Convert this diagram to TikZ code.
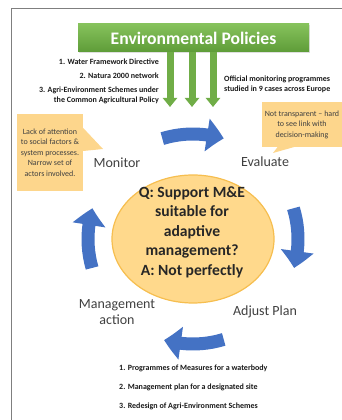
\documentclass[tikz,border=0pt]{standalone}
\usepackage{fontspec}
\setmainfont{Carlito}
\usetikzlibrary{arrows.meta,bending,shadows}
\definecolor{policygreenlight}{HTML}{86C25C}
\definecolor{policygreendark}{HTML}{5E9C38}
\definecolor{policygreen}{HTML}{70AD47}
\definecolor{cycleblue}{HTML}{4472C4}
\definecolor{noteorange}{HTML}{FDD68C}
\definecolor{circlefill}{HTML}{FFD98C}
\definecolor{circleedge}{HTML}{F6BE4F}
\definecolor{labelgray}{HTML}{404040}
\definecolor{framegray}{HTML}{7F7F7F}

\begin{document}
\begin{tikzpicture}[x=1pt,y=1pt,
    stage/.style={text=labelgray,font=\fontsize{14}{16}\selectfont,align=center},
    listtext/.style={font=\fontsize{8}{9.5}\selectfont\bfseries,text=black!90,inner sep=0pt},
    notebox/.style={fill=noteorange,text=labelgray,font=\fontsize{8}{10.5}\selectfont,align=center,inner sep=0pt},
    cyclearrow/.style={cycleblue,line width=13pt,-{Triangle[length=17pt,width=32pt,bend]}},
    policyarrow/.style={policygreen,line width=7pt,-{Triangle[length=9pt,width=14pt]}}]

    \useasboundingbox (0,0) rectangle (342,420);
    \draw[framegray,line width=0.8pt] (11,0) -- (11,412) -- (342,412);

    \node[minimum width=231pt,minimum height=28pt,top color=policygreenlight,bottom color=policygreendark,
          text=white,font=\fontsize{17.6}{20}\selectfont\bfseries,
          drop shadow={opacity=0.25,shadow xshift=1pt,shadow yshift=-1.5pt}] (policy) at (193.5,382) {Environmental Policies};

    \foreach \gx/\gname in {170/ga,192/gb,213/gc}
    {
        \coordinate (\gname) at (\gx,313);
        \draw[policyarrow] (policy.south -| \gname) -- (\gname);
    }

    \node[listtext,anchor=east] (wfd) at (159,358) {1. Water Framework Directive};
    \node[listtext,anchor=east] (natura) at (159,344) {2. Natura 2000 network};
    \node[listtext,anchor=east,align=right] (aes) at (159,324.5) {3. Agri-Environment Schemes under\\the Common Agricultural Policy};
    \node[listtext,anchor=west,align=left,font=\fontsize{8}{10}\selectfont\bfseries] (official) at (224,336) {Official monitoring programmes\\studied in 9 cases across Europe};

    \node[notebox,minimum width=66pt,minimum height=77pt] (socialnote) at (50,267.5) {Lack of attention\\to social factors \&\\system processes.\\Narrow set of\\actors involved.};
    \fill[noteorange] (socialnote.east |- 0,292) -- (103,271) -- (socialnote.east |- 0,269) -- cycle;

    \node[notebox,minimum width=80pt,minimum height=45pt] (transparentnote) at (302,295.5) {Not transparent -- hard\\to see link with\\decision-making};
    \fill[noteorange] (278,273.5) -- (273,267) -- (296,273.5) -- cycle;

    \coordinate (hub) at (193,181);
    \draw[circleedge,fill=circlefill,line width=1.2pt] (hub) ellipse [x radius=81,y radius=64];
    \node[font=\fontsize{15.6}{19.5}\selectfont\bfseries,text=black!85,align=center] (question) at (192,188) {Q: Support M\&E\\suitable for\\adaptive\\management?\\A: Not perfectly};

    \foreach \from/\to in {107/73,17/-16,-73/-106,196/163}
    {
        \draw[cyclearrow] ([shift={(\from:105)}]hub) arc[start angle=\from,end angle=\to,radius=105];
    }

    \node[stage] (monitor) at (117,257) {Monitor};
    \node[stage] (evaluate) at (265,258) {Evaluate};
    \node[stage] (adjust) at (265,108) {Adjust Plan};
    \node[stage] (action) at (117,108) {Management\\action};

    \node[listtext,anchor=west] (pom) at (119,52) {1. Programmes of Measures for a waterbody};
    \node[listtext,anchor=west] (siteplan) at (119,33) {2. Management plan for a designated site};
    \node[listtext,anchor=west] (redesign) at (119,14) {3. Redesign of Agri-Environment Schemes};
\end{tikzpicture}
\end{document}
